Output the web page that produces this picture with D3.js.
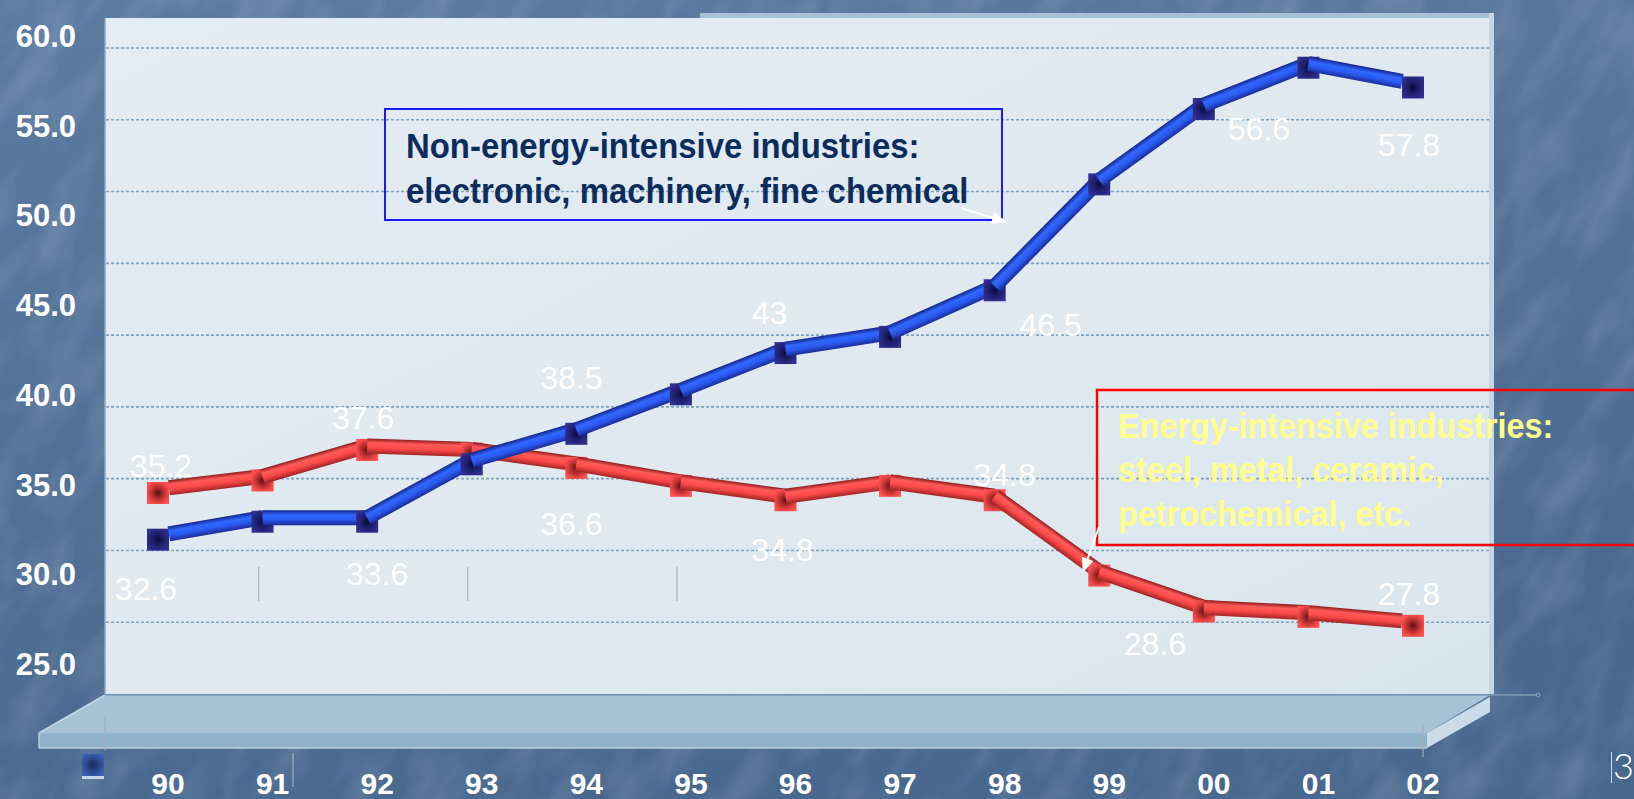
<!DOCTYPE html>
<html>
<head>
<meta charset="utf-8">
<script src="https://cdn.jsdelivr.net/npm/d3@7"></script>
<style>
  html, body { margin: 0; padding: 0; background: #4c6c92; overflow: hidden; }
  svg { display: block; }
</style>
</head>
<body>
<svg id="chart" width="1634" height="799"></svg>
<script>
// ---- data -------------------------------------------------------------
const years = ["90","91","92","93","94","95","96","97","98","99","00","01","02"];
const nonEnergy = [32.6, 33.6, 33.6, 36.8, 38.5, 40.7, 43, 43.9, 46.5, 52.4, 56.6, 58.9, 57.8];
const energy    = [35.2, 35.9, 37.6, 37.4, 36.6, 35.6, 34.8, 35.6, 34.8, 30.6, 28.6, 28.3, 27.8];
const labelledYears = ["90","92","94","96","98","00","02"];
const yTicks = [25, 30, 35, 40, 45, 50, 55, 60];
const gridValues = [28, 32, 36, 40, 44, 48, 52, 56, 60];
const nonEnergyNote = ["Non-energy-intensive industries:", "electronic, machinery, fine chemical"];
const energyNote = ["Energy-intensive industries:", "steel, metal, ceramic,", "petrochemical, etc."];
const pageNumber = "3";

// where each value label sits relative to its marker (dx, dy of the label centre)
const nonEnergyLabelOffset = [[-12,49],[10,52],[-5,-56],[-16,-40],[56,35],[55,20],[-4,58]];
const energyLabelOffset    = [[3,-27],[-4,-32],[-5,56],[-3,50],[10,-25],[-49,33],[-4,-32]];

// ---- layout -----------------------------------------------------------
const W = 1634, H = 799;
const wall = { left: 105, right: 1490, top: 18, bottom: 694 };
const FONT = "'Liberation Sans', Arial, Helvetica, sans-serif";

const x = d3.scalePoint().domain(years).range([158, 1413]);
const y = d3.scaleLinear().domain([24, 60]).range([wall.bottom, 48]);

const svg = d3.select("#chart");
const defs = svg.append("defs");

// ---- background: mottled blue ----------------------------------------
const bg = defs.append("linearGradient").attr("id", "bg")
  .attr("x1", 0).attr("y1", 0).attr("x2", 0.3).attr("y2", 1);
bg.append("stop").attr("offset", 0).attr("stop-color", "#5b7ba1");
bg.append("stop").attr("offset", 1).attr("stop-color", "#48688e");
svg.append("rect").attr("width", W).attr("height", H).attr("fill", "url(#bg)");

const marble = defs.append("filter").attr("id", "marble")
  .attr("x", 0).attr("y", 0).attr("width", 1).attr("height", 1);
marble.append("feTurbulence").attr("type", "fractalNoise")
  .attr("baseFrequency", "0.012 0.028").attr("numOctaves", 3).attr("seed", 11);
marble.append("feColorMatrix").attr("type", "matrix")
  .attr("values", "0 0 0 0 1  0 0 0 0 1  0 0 0 0 1  1.5 0 0 0 -0.62");
svg.append("rect")
  .attr("x", -600).attr("y", -800).attr("width", 2800).attr("height", 2400)
  .attr("transform", "rotate(-60 817 400)")
  .attr("filter", "url(#marble)").attr("opacity", 0.2);

// ---- back wall ----------------------------------------------------------
const wallGrad = defs.append("linearGradient").attr("id", "wallGrad")
  .attr("x1", 0).attr("y1", 0).attr("x2", 1).attr("y2", 1);
wallGrad.append("stop").attr("offset", 0).attr("stop-color", "#e3ecf2");
wallGrad.append("stop").attr("offset", 0.55).attr("stop-color", "#e0e9f0");
wallGrad.append("stop").attr("offset", 1).attr("stop-color", "#d9e5ed");

svg.append("rect").attr("x", 700).attr("y", wall.top - 5)
  .attr("width", wall.right + 4 - 700).attr("height", 6).attr("fill", "#a7c1d5");
svg.append("rect")
  .attr("x", wall.left).attr("y", wall.top)
  .attr("width", wall.right - wall.left).attr("height", wall.bottom - wall.top)
  .attr("fill", "url(#wallGrad)");
svg.append("rect").attr("x", wall.right - 1).attr("y", wall.top - 5)
  .attr("width", 5).attr("height", wall.bottom - wall.top + 5).attr("fill", "#c6d6e2");
svg.append("line")
  .attr("x1", wall.left).attr("x2", wall.left).attr("y1", wall.top).attr("y2", wall.bottom)
  .attr("stroke", "#8ea7bb").attr("stroke-width", 1.5);

// dotted grid
svg.append("g").selectAll("line").data(gridValues).join("line")
  .attr("x1", wall.left + 1).attr("x2", wall.right - 1)
  .attr("y1", d => y(d)).attr("y2", d => y(d))
  .attr("stroke", "#7fa2be").attr("stroke-width", 1.6)
  .attr("stroke-dasharray", "3 2");

// faint drop marks inside the wall
svg.append("g").selectAll("line").data(["91","93","95"]).join("line")
  .attr("x1", d => x(d) - 4).attr("x2", d => x(d) - 4)
  .attr("y1", 567).attr("y2", 601)
  .attr("stroke", "#a9b3bc").attr("stroke-width", 1.2);

// ---- floor ---------------------------------------------------------------
const fl = { y0: wall.bottom + 1, y1: 733, y2: 748, xl: 39, xr: 1427 };
svg.append("polygon")
  .attr("points", [[wall.left, fl.y0], [wall.right, fl.y0], [fl.xr, fl.y1], [fl.xl, fl.y1]].join(" "))
  .attr("fill", "#a8c2d5");
svg.append("line").attr("x1", fl.xl).attr("y1", fl.y1).attr("x2", wall.left).attr("y2", fl.y0)
  .attr("stroke", "#c3d6e4").attr("stroke-width", 1.5);
svg.append("rect").attr("x", fl.xl).attr("y", fl.y1)
  .attr("width", fl.xr - fl.xl).attr("height", fl.y2 - fl.y1).attr("fill", "#8fb1c9");
svg.append("line").attr("x1", fl.xl).attr("x2", fl.xr).attr("y1", fl.y1).attr("y2", fl.y1)
  .attr("stroke", "#9fbdd2").attr("stroke-width", 1);
svg.append("line").attr("x1", fl.xl).attr("x2", fl.xr).attr("y1", fl.y2).attr("y2", fl.y2)
  .attr("stroke", "#b9d0e1").attr("stroke-width", 1.5);
svg.append("line").attr("x1", fl.xl).attr("x2", fl.xl).attr("y1", fl.y1).attr("y2", fl.y2)
  .attr("stroke", "#b9d0e1").attr("stroke-width", 1.5);
svg.append("polygon")
  .attr("points", [[fl.xr, fl.y1], [wall.right, fl.y0 + 2], [wall.right, 712], [fl.xr, fl.y2]].join(" "))
  .attr("fill", "#cadcea");
svg.append("line").attr("x1", wall.left).attr("x2", 1537).attr("y1", fl.y0).attr("y2", fl.y0)
  .attr("stroke", "#7f9cb2").attr("stroke-width", 1.3);
svg.append("circle").attr("cx", 1538).attr("cy", fl.y0).attr("r", 2)
  .attr("fill", "none").attr("stroke", "#8aa3b6").attr("stroke-width", 1);

// axis tick stubs
[[wall.left, 717, 750], [293, 753, 787], [1423, 725, 757]].forEach(([tx, ta, tb]) =>
  svg.append("line").attr("x1", tx).attr("x2", tx).attr("y1", ta).attr("y2", tb)
    .attr("stroke", "#a3adb7").attr("stroke-width", 1.2));

// ---- series -------------------------------------------------------------
const TUBE = 15, LIFT = 4, MK = 22;
const styles = {
  energy: {
    tube: [[0, "#8e1b1b"], [0.28, "#ff5a5a"], [0.6, "#ff4a4a"], [1, "#a02525"]],
    marker: [[0, "#5a0f0f"], [0.35, "#a82a2a"], [0.75, "#f04646"], [1, "#ff5555"]]
  },
  nonEnergy: {
    tube: [[0, "#14258a"], [0.33, "#3068ff"], [0.62, "#2a5af0"], [1, "#1a2c96"]],
    marker: [[0, "#0a0a35"], [0.4, "#1d1d6a"], [0.8, "#2b2b88"], [1, "#31319b"]]
  }
};

function markerGradient(id, stops) {
  const rg = defs.append("radialGradient").attr("id", id)
    .attr("cx", 0.5).attr("cy", 0.5).attr("r", 0.62);
  stops.forEach(s => rg.append("stop").attr("offset", s[0]).attr("stop-color", s[1]));
}

function drawSeries(values, key) {
  const st = styles[key];
  markerGradient(key + "-mk", st.marker);
  const g = svg.append("g").attr("class", key);
  const pts = values.map((v, i) => ({ x: x(years[i]), y: y(v) }));
  pts.forEach((p, i) => {
    g.append("rect")
      .attr("x", p.x - MK / 2).attr("y", p.y - MK / 2)
      .attr("width", MK).attr("height", MK)
      .attr("fill", `url(#${key}-mk)`);
    if (i < pts.length - 1) {
      let a = { x: p.x, y: p.y - LIFT };
      let b = { x: pts[i + 1].x, y: pts[i + 1].y - LIFT };
      const len = Math.hypot(b.x - a.x, b.y - a.y);
      const ux = (b.x - a.x) / len, uy = (b.y - a.y) / len;
      if (i === 0) a = { x: a.x + ux * MK / 2, y: a.y + uy * MK / 2 };
      if (i === pts.length - 2) b = { x: b.x - ux * MK / 2, y: b.y - uy * MK / 2 };
      const nx = -uy, ny = ux;
      const id = `${key}-seg${i}`;
      const lg = defs.append("linearGradient").attr("id", id)
        .attr("gradientUnits", "userSpaceOnUse")
        .attr("x1", a.x - nx * TUBE / 2).attr("y1", a.y - ny * TUBE / 2)
        .attr("x2", a.x + nx * TUBE / 2).attr("y2", a.y + ny * TUBE / 2);
      st.tube.forEach(s => lg.append("stop").attr("offset", s[0]).attr("stop-color", s[1]));
      g.append("line")
        .attr("x1", a.x).attr("y1", a.y).attr("x2", b.x).attr("y2", b.y)
        .attr("stroke", `url(#${id})`).attr("stroke-width", TUBE)
        .attr("stroke-linecap", "butt");
    }
  });
}

drawSeries(energy, "energy");
drawSeries(nonEnergy, "nonEnergy");

// value labels
function drawValueLabels(values, offsets) {
  svg.append("g").selectAll("text").data(labelledYears).join("text")
    .attr("x", (d, k) => x(d) + offsets[k][0])
    .attr("y", (d, k) => y(values[years.indexOf(d)]) + offsets[k][1] + 11)
    .attr("text-anchor", "middle")
    .attr("font-family", FONT).attr("font-size", 32)
    .attr("fill", "#ffffff")
    .text(d => String(values[years.indexOf(d)]));
}
drawValueLabels(energy, energyLabelOffset);
drawValueLabels(nonEnergy, nonEnergyLabelOffset);

// ---- annotations --------------------------------------------------------
const arrowHead = defs.append("marker").attr("id", "arrowHead")
  .attr("markerUnits", "userSpaceOnUse")
  .attr("markerWidth", 15).attr("markerHeight", 12)
  .attr("refX", 14).attr("refY", 6).attr("orient", "auto");
arrowHead.append("path").attr("d", "M0,0 L15,6 L0,12 Z").attr("fill", "#ffffff");

svg.append("rect").attr("x", 385).attr("y", 109).attr("width", 617).attr("height", 111)
  .attr("fill", "none").attr("stroke", "#1a1aff").attr("stroke-width", 2);
const note1 = svg.append("g").attr("transform", "translate(406,0) scale(0.94,1)");
note1.selectAll("text").data(nonEnergyNote).join("text")
  .attr("x", 0).attr("y", (d, i) => 158 + i * 45)
  .attr("font-family", FONT).attr("font-weight", "bold").attr("font-size", 35)
  .attr("fill", "#0b2d5e").text(d => d);
svg.append("line").attr("x1", 961).attr("y1", 208).attr("x2", 1006).attr("y2", 222)
  .attr("stroke", "#ffffff").attr("stroke-width", 2).attr("marker-end", "url(#arrowHead)");

svg.append("rect").attr("x", 1097).attr("y", 390).attr("width", 620).attr("height", 155)
  .attr("fill", "none").attr("stroke", "#ff0000").attr("stroke-width", 2.5);
const note2 = svg.append("g").attr("transform", "translate(1118,0) scale(0.925,1)");
note2.selectAll("text").data(energyNote).join("text")
  .attr("x", 0).attr("y", (d, i) => 438 + i * 44)
  .attr("font-family", FONT).attr("font-weight", "bold").attr("font-size", 35)
  .attr("fill", "#ffff8e").text(d => d);
svg.append("line").attr("x1", 1099).attr("y1", 527).attr("x2", 1083).attr("y2", 572)
  .attr("stroke", "#ffffff").attr("stroke-width", 2).attr("marker-end", "url(#arrowHead)");

// ---- axes -----------------------------------------------------------------
svg.append("g").selectAll("text").data(yTicks).join("text")
  .attr("x", 76).attr("y", d => y(d) - 1)
  .attr("text-anchor", "end")
  .attr("font-family", FONT).attr("font-weight", "bold").attr("font-size", 31)
  .attr("fill", "#ffffff").text(d => d3.format(".1f")(d));

svg.append("g").selectAll("text").data(years).join("text")
  .attr("x", d => x(d) + 10).attr("y", 794)
  .attr("text-anchor", "middle")
  .attr("font-family", FONT).attr("font-weight", "bold").attr("font-size", 30)
  .attr("fill", "#ffffff").text(d => d);

// legend key swatch
const keyGrad = defs.append("radialGradient").attr("id", "keyGrad")
  .attr("cx", 0.5).attr("cy", 0.5).attr("r", 0.62);
[[0, "#182a58"], [0.45, "#2b4788"], [1, "#3f63b6"]].forEach(s =>
  keyGrad.append("stop").attr("offset", s[0]).attr("stop-color", s[1]));
svg.append("rect").attr("x", 82).attr("y", 754).attr("width", 22).attr("height", 22)
  .attr("fill", "url(#keyGrad)");
svg.append("rect").attr("x", 82).attr("y", 776).attr("width", 22).attr("height", 3)
  .attr("fill", "#c6d4ec");

// slide number
svg.append("line").attr("x1", 1611.5).attr("x2", 1611.5).attr("y1", 752).attr("y2", 783)
  .attr("stroke", "#d3dde8").attr("stroke-width", 1);
svg.append("text").attr("x", 1613).attr("y", 779)
  .attr("font-family", "Lato, 'Open Sans', " + FONT).attr("font-weight", 300)
  .attr("font-size", 36).attr("fill", "#ffffff").text(pageNumber);
</script>
</body>
</html>
